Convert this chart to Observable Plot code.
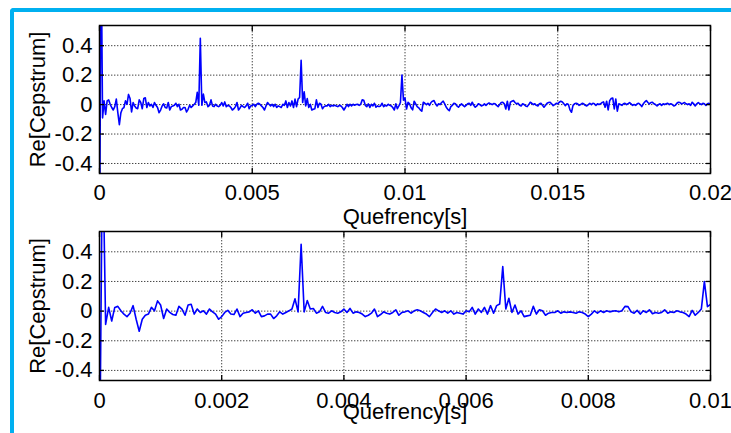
<!DOCTYPE html>
<html><head><meta charset="utf-8">
<script src="https://cdn.jsdelivr.net/npm/d3@7"></script>
<script src="https://cdn.jsdelivr.net/npm/@observablehq/plot@0.6"></script>
<style>
html,body{margin:0;padding:0;background:#fff;}
#chart{position:relative;width:731px;height:433px;overflow:hidden;background:#fff;font-family:"Liberation Sans",Arial,sans-serif;}
#border{position:absolute;left:10px;top:8px;width:760px;height:460px;border-left:4px solid #00b0f0;border-top:4px solid #00b0f0;border-top-left-radius:4px;}
#chart svg{position:absolute;left:0;top:0;}
</style></head><body><div id="chart"><div id="border"></div></div>
<script>
// quefrency step (s)
const dt = 0.00005;
// real cepstrum, 0 .. 0.01 s
const cepFirst = [
-1.2,1.2,-0.09,0.025,-0.067,0.025,0.032,0.002,-0.02,-0.037,
-0.014,0.037,-0.055,-0.136,-0.055,-0.028,-0.02,0.025,0.002,0.069,
0.041,-0.05,0.014,-0.009,-0.023,-0.028,0.032,0.014,-0.028,0.041,
0.046,-0.02,0.014,-0.009,0.002,-0.02,0.014,-0.005,-0.02,-0.055,
-0.037,-0.009,0.005,-0.02,-0.023,0.014,-0.037,-0.014,-0.009,-0.005,
0.009,-0.014,0.002,-0.037,-0.032,-0.02,-0.02,-0.05,-0.032,-0.005,
-0.02,-0.009,0.002,0.014,0.083,-0.005,0.45,-0.005,0.071,0.014,
0.018,-0.014,-0.005,0.032,-0.009,-0.014,0.002,-0.009,-0.014,-0.005,
0.014,-0.009,0.018,-0.014,-0.005,-0.009,-0.02,-0.037,-0.028,-0.014,
0.014,-0.037,-0.023,-0.005,-0.014,-0.02,-0.009,0.009,-0.028,-0.009,
-0.005,0.002,-0.014,0.002,0.009,0.002,-0.009,-0.02,-0.037,-0.009,
0.014,0.002,-0.009,0.002,-0.014,0.002,-0.02,-0.009,-0.014,-0.02,
0.002,-0.005,0.025,-0.02,0.014,-0.009,0.025,-0.02,0.037,-0.014,
0.037,0.048,0.30,0.014,0.087,-0.009,0.041,-0.02,0.002,-0.037,
-0.032,-0.028,0.032,-0.02,0.009,0.002,-0.028,-0.014,-0.009,-0.009,
0.002,-0.014,-0.005,-0.009,-0.005,-0.009,-0.014,-0.005,-0.009,-0.02,
-0.037,-0.02,0.002,-0.014,0.002,-0.009,0.002,-0.005,0,0.002,
-0.005,0.002,0.032,0.03,-0.005,-0.014,0.005,-0.02,0.002,-0.009,
0.009,-0.018,-0.009,-0.014,-0.009,0.009,-0.014,-0.005,-0.009,0.002,
-0.005,-0.009,-0.02,-0.037,0.005,-0.028,-0.009,0.014,0.20,0.03,
0.045
];
// real cepstrum, 0.01 .. 0.02 s (samples 201..400)
const cepSecond = [
-0.03,0.016,0.005,-0.022,-0.036,0.023,0.005,-0.014,-0.022,-0.036,
-0.045,0.016,0.009,0,0.009,-0.005,0.014,0.023,0.027,0.005,
-0.009,0.005,0,0.014,0.023,0.005,-0.018,-0.032,-0.041,-0.014,
-0.005,0.009,0.005,-0.009,-0.018,-0.005,0.005,-0.005,-0.014,-0.005,
0.005,0.009,-0.005,0.016,-0.005,-0.018,-0.009,0.005,0,-0.009,
-0.005,0.005,-0.005,0.005,0.011,0.005,0,0.007,0.005,-0.005,
-0.014,0,0.014,0.016,0.005,-0.03,0.023,-0.036,0.016,0.023,
0.027,0.014,0.005,0.009,-0.005,-0.009,0.005,0,-0.009,-0.014,
0,0.016,0.009,0,0.005,-0.005,-0.009,0.005,0.009,-0.005,
-0.018,-0.005,0.009,0.014,0.016,0.005,-0.007,0,0.009,0.005,
0.016,0.023,0.018,0.005,-0.007,0.005,0,-0.036,-0.052,-0.005,
0.005,0.009,0.005,-0.005,0,0.009,0.005,-0.005,-0.009,0,
0.009,0,0.009,0.005,-0.005,0.005,0,0.005,0.014,0.018,
-0.018,0.023,-0.036,0.027,0.041,0.045,-0.03,0.038,-0.045,0.005,
0,-0.005,0.005,0.009,0,0.005,0.014,0.005,-0.005,0,
-0.005,0.005,0.009,0,-0.014,0.005,0.018,0.027,0.014,0.005,
0.014,0.016,0.005,0,-0.009,0,0.005,-0.005,0.005,0,
0.005,0.009,0,0.005,0,-0.009,-0.005,0.009,0.016,0.014,
0.005,0.009,0.014,0.005,0,0.005,-0.005,0.016,0.005,-0.009,
0.005,0.014,0.005,0,0.009,0.005,-0.005,0.005,0.009,0
];
const yTicks = [-0.4, -0.2, 0, 0.2, 0.4];
const yTickLabels = ["-0.4", "-0.2", "0", "0.2", "0.4"];
const yDomain = [-0.468, 0.537];
const xTicksTop = [0, 0.005, 0.01, 0.015, 0.02];
const xTickLabelsTop = ["0", "0.005", "0.01", "0.015", "0.02"];
const xTicksBottom = [0, 0.002, 0.004, 0.006, 0.008, 0.01];
const xTickLabelsBottom = ["0", "0.002", "0.004", "0.006", "0.008", "0.01"];
const xAxisLabel = "Quefrency[s]";
const yAxisLabel = "Re[Cepstrum]";

const rowsFirst = cepFirst.map((v, i) => ({t: i * dt, v}));
const rowsAll = rowsFirst.concat(cepSecond.map((v, j) => ({t: (cepFirst.length + j) * dt, v})));

const font = '"Liberation Sans", Arial, sans-serif';
const gridStyle = {stroke: "#444", strokeOpacity: 1, strokeWidth: 1, strokeDasharray: "1.4,1.6"};

function panel(o) {
  const fmtX = d => o.xLabels[o.xTicks.indexOf(d)];
  const fmtY = d => yTickLabels[yTicks.indexOf(d)];
  const blank = () => "";
  return Plot.plot({
    width: 731, height: 433,
    marginLeft: 99, marginRight: 21, marginTop: o.mt, marginBottom: o.mb,
    style: {background: "transparent", overflow: "visible", fontFamily: font, fontSize: "22px", color: "black"},
    x: {domain: o.xDomain, label: null},
    y: {domain: yDomain, label: null},
    marks: [
      Plot.gridX(o.xTicks, gridStyle),
      Plot.gridY(yTicks, gridStyle),
      Plot.line(o.data, {x: "t", y: "v", stroke: "#0000ff", strokeWidth: 1.6, clip: true}),
      Plot.axisX(o.xTicks, {anchor: "bottom", tickSize: 0, tickPadding: o.tp, tickFormat: fmtX, label: null, fontSize: 22}),
      Plot.axisX(o.xTicks, {anchor: "bottom", tickSize: -5, tickFormat: blank, label: null, strokeWidth: 1.3}),
      Plot.axisX(o.xTicks, {anchor: "top", tickSize: -5, tickFormat: blank, label: null, strokeWidth: 1.3}),
      Plot.axisY(yTicks, {anchor: "left", tickSize: 0, tickPadding: 7, tickFormat: fmtY, label: null, fontSize: 22}),
      Plot.axisY(yTicks, {anchor: "left", tickSize: -5, tickFormat: blank, label: null, strokeWidth: 1.3}),
      Plot.axisY(yTicks, {anchor: "right", tickSize: -5, tickFormat: blank, label: null, strokeWidth: 1.3}),
      Plot.frame({stroke: "black", strokeWidth: 1.5}),
      Plot.text([yAxisLabel], {text: d => d, frameAnchor: "left", dx: -62, rotate: -90, textAnchor: "middle", lineAnchor: "middle", fontSize: 22, fill: "black"}),
      Plot.text([xAxisLabel], {text: d => d, frameAnchor: "bottom", dy: o.labelDy, textAnchor: "middle", lineAnchor: "bottom", fontSize: 22, fill: "black"})
    ]
  });
}

const chart = document.getElementById("chart");
chart.appendChild(panel({xDomain: [0, 0.02], xTicks: xTicksTop, xLabels: xTickLabelsTop, data: rowsAll, mt: 25, mb: 260, tp: 11, labelDy: 50}));
chart.appendChild(panel({xDomain: [0, 0.01], xTicks: xTicksBottom, xLabels: xTickLabelsBottom, data: rowsFirst, mt: 231, mb: 53, tp: 12, labelDy: 38}));
</script>
</body></html>
